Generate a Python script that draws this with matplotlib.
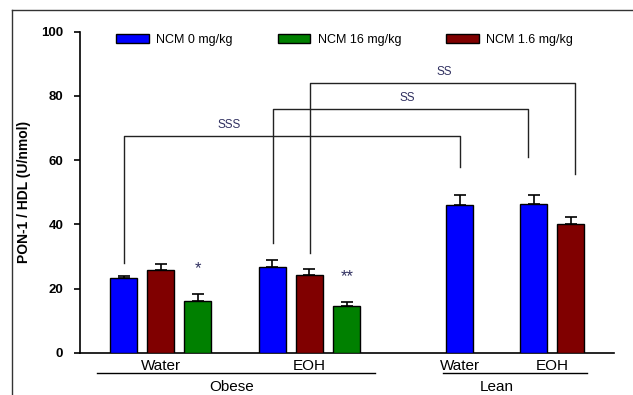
import matplotlib
matplotlib.use("Agg")
import matplotlib.pyplot as plt
from matplotlib.patches import Patch
from matplotlib.lines import Line2D

plt.rcParams["font.family"] = ["Liberation Sans", "DejaVu Sans"]

# Groups along the x axis
groups = ["Obese Water", "Obese EOH", "Lean Water", "Lean EOH"]
group_labels = ["Water", "EOH", "Water", "EOH"]
series_names = ["NCM 0 mg/kg", "NCM 16 mg/kg", "NCM 1.6 mg/kg"]

# PON-1 / HDL (U/nmol), mean and SEM per dose (groups where each dose was tested)
ncm0_groups = ["Obese Water", "Obese EOH", "Lean Water", "Lean EOH"]
ncm0_mean = [23.4, 26.7, 46.0, 46.4]
ncm0_sem = [0.5, 2.2, 3.2, 2.8]

ncm16_groups = ["Obese Water", "Obese EOH"]
ncm16_mean = [16.0, 14.5]
ncm16_sem = [2.4, 1.4]

ncm1_6_groups = ["Obese Water", "Obese EOH", "Lean EOH"]
ncm1_6_mean = [25.8, 24.3, 40.1]
ncm1_6_sem = [1.7, 1.8, 2.2]

# significance marks over the 16 mg/kg bars
stars = {"Obese Water": "*", "Obese EOH": "**"}

colors = {"NCM 0 mg/kg": "#0000ff", "NCM 16 mg/kg": "#008000", "NCM 1.6 mg/kg": "#800000"}

# bar slots: order within each cluster is 0, 1.6, 16 mg/kg
slot = {
    ("Obese Water", "NCM 0 mg/kg"): 1.18, ("Obese Water", "NCM 1.6 mg/kg"): 2.18,
    ("Obese Water", "NCM 16 mg/kg"): 3.18,
    ("Obese EOH", "NCM 0 mg/kg"): 5.20, ("Obese EOH", "NCM 1.6 mg/kg"): 6.20,
    ("Obese EOH", "NCM 16 mg/kg"): 7.21,
    ("Lean Water", "NCM 0 mg/kg"): 10.26,
    ("Lean EOH", "NCM 0 mg/kg"): 12.26, ("Lean EOH", "NCM 1.6 mg/kg"): 13.26,
}
bar_w = 0.73

fig = plt.figure(figsize=(6.33, 3.95), dpi=100)
ax = fig.add_axes([80 / 633, 42.3 / 395, 534 / 633, 321 / 395])

series = [
    ("NCM 0 mg/kg", ncm0_groups, ncm0_mean, ncm0_sem),
    ("NCM 16 mg/kg", ncm16_groups, ncm16_mean, ncm16_sem),
    ("NCM 1.6 mg/kg", ncm1_6_groups, ncm1_6_mean, ncm1_6_sem),
]
for name, grps, means, sems in series:
    xs = [slot[(g, name)] for g in grps]
    ax.bar(xs, means, width=bar_w, color=colors[name], edgecolor="black",
           linewidth=1.0, zorder=3)
    ax.errorbar(xs, means, yerr=[[0] * len(sems), sems], fmt="none",
                ecolor="black", elinewidth=1.2, capsize=4, capthick=1.2, zorder=2)

for g, s in stars.items():
    i = ncm16_groups.index(g)
    ax.text(slot[(g, "NCM 16 mg/kg")], ncm16_mean[i] + ncm16_sem[i] + 6.3, s,
            ha="center", va="baseline", fontsize=12, color="#303060")

ax.set_xlim(0, 14.43)
ax.set_ylim(0, 100)
ax.set_yticks([0, 20, 40, 60, 80, 100])
ax.tick_params(axis="y", length=4, width=1.2, pad=8)
for t in ax.get_yticklabels():
    t.set_fontsize(9.5)
    t.set_fontweight("bold")
ax.spines["top"].set_visible(False)
ax.spines["right"].set_visible(False)
ax.spines["left"].set_bounds(0, 100)
for sp in ("left", "bottom"):
    ax.spines[sp].set_linewidth(1.2)

tick_x = [
    (slot[("Obese Water", "NCM 0 mg/kg")] + slot[("Obese Water", "NCM 16 mg/kg")]) / 2,
    (slot[("Obese EOH", "NCM 0 mg/kg")] + slot[("Obese EOH", "NCM 16 mg/kg")]) / 2,
    slot[("Lean Water", "NCM 0 mg/kg")],
    (slot[("Lean EOH", "NCM 0 mg/kg")] + slot[("Lean EOH", "NCM 1.6 mg/kg")]) / 2,
]
ax.set_xticks(tick_x)
ax.set_xticklabels(group_labels, fontsize=11)
ax.tick_params(axis="x", length=0, pad=4.5)

ax.set_ylabel("PON-1 / HDL (U/nmol)", fontsize=10, fontweight="bold", labelpad=7)

# treatment-group underlines
for x0, x1, xt, label in [(0.46, 7.97, 4.11, "Obese"), (9.81, 13.70, 11.27, "Lean")]:
    ax.plot([x0, x1], [-6.3, -6.3], color="black", lw=1.0, clip_on=False)
    ax.text(xt, -10.6, label, ha="center", va="center", fontsize=11)

# comparison brackets
brackets = [
    (1.18, 10.26, 67.4, 27.9, 57.9, 4.03, "SSS"),
    (5.22, 12.10, 76.0, 34.2, 61.1, 8.84, "SS"),
    (6.22, 13.38, 83.9, 31.2, 55.7, 9.84, "SS"),
]
for xl, xr, yb, yl, yr, xt, lab in brackets:
    ax.plot([xl, xl, xr, xr], [yl, yb, yb, yr], color="#222222", lw=1.0,
            clip_on=False, zorder=1)
    ax.text(xt, yb + 1.6, lab, ha="center", va="bottom", fontsize=8.5,
            color="#303060")

handles = [Patch(facecolor=colors[n], edgecolor="black", linewidth=1.0) for n in series_names]
ax.legend(handles, series_names, ncol=3, loc="upper left",
          bbox_to_anchor=(36 / 534, 1.0 - 2 / 321), frameon=False, fontsize=9,
          handlelength=2.6, handleheight=0.75, handletextpad=0.6,
          columnspacing=3.6, borderaxespad=0, borderpad=0)

# outer frame
fig.add_artist(Line2D([12 / 633, 1.0], [1 - 10 / 395, 1 - 10 / 395],
                      transform=fig.transFigure, color="#333333", lw=1.0))
fig.add_artist(Line2D([12 / 633, 12 / 633], [0, 1 - 10 / 395],
                      transform=fig.transFigure, color="#333333", lw=1.0))

fig.savefig("out.png", dpi=100)
